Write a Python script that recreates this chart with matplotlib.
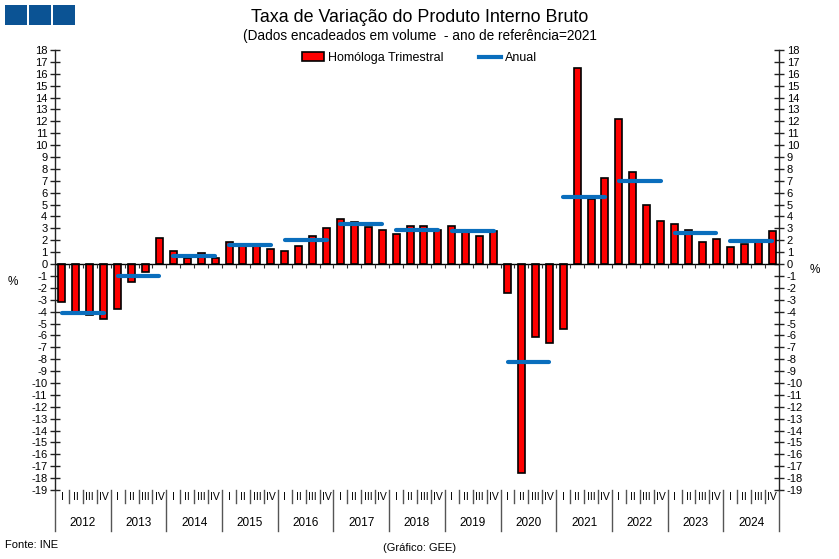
#!/usr/bin/env python3
import matplotlib

matplotlib.use("Agg")
import matplotlib.pyplot as plt
from matplotlib.lines import Line2D
from matplotlib.patches import Patch, Rectangle
from matplotlib.transforms import blended_transform_factory
import numpy as np

plt.rcParams["font.family"] = ["Liberation Sans", "DejaVu Sans"]
plt.rcParams["axes.unicode_minus"] = False

# Data (% change)
years = ["2012", "2013", "2014", "2015", "2016", "2017", "2018",
         "2019", "2020", "2021", "2022", "2023", "2024"]
quarter_labels = ["I", "II", "III", "IV"]
homologa = [
    -3.2, -4.0, -4.3, -4.6,   # 2012
    -3.8, -1.5, -0.7, 2.2,    # 2013
    1.1, 0.55, 0.9, 0.55,     # 2014
    1.85, 1.6, 1.6, 1.3,      # 2015
    1.1, 1.5, 2.4, 3.0,       # 2016
    3.75, 3.5, 3.1, 2.9,      # 2017
    2.5, 3.2, 3.2, 2.9,       # 2018
    3.2, 2.7, 2.4, 2.8,       # 2019
    -2.4, -17.6, -6.1, -6.6,  # 2020
    -5.5, 16.5, 5.5, 7.2,     # 2021
    12.2, 7.7, 5.0, 3.6,      # 2022
    3.35, 2.9, 1.85, 2.1,     # 2023
    1.4, 1.65, 1.9, 2.75,     # 2024
]
anual = [-4.1, -1.0, 0.7, 1.6, 2.0, 3.35, 2.9, 2.75, -8.2, 5.6, 7.0, 2.6, 1.9]

RED = "#FF0000"
BLUE = "#0A6EBD"
LOGO = "#0B5394"

fig = plt.figure(figsize=(8.39, 5.59), dpi=100)
ax = fig.add_axes([55 / 839, 1 - 490 / 559, 724 / 839, 440 / 559])

n = len(homologa)
x = np.arange(n)
ax.bar(x, homologa, width=0.5, color=RED, edgecolor="black", linewidth=1.2, zorder=2)

# zero line with small ticks at quarter boundaries
ax.axhline(0, color="black", linewidth=1.0, zorder=3)
ax.vlines(np.arange(n + 1) - 0.5, -0.3, 0, color="#333333", linewidth=0.8, zorder=3)

# annual averages as horizontal segments over each year's quarters
for i, v in enumerate(anual):
    ax.plot([4 * i, 4 * i + 3], [v, v], color=BLUE, linewidth=3.0,
            solid_capstyle="round", zorder=4)

ax.set_xlim(-0.5, n - 0.5)
ax.set_ylim(-19, 18)
ax.set_yticks(np.arange(-19, 19))
ax.set_xticks([])
for side in ("top", "bottom"):
    ax.spines[side].set_visible(False)
for side in ("left", "right"):
    ax.spines[side].set_color("#222222")
    ax.spines[side].set_linewidth(1.0)
ax.tick_params(axis="y", which="both", direction="inout", length=7, width=1.0,
               labelsize=8, left=True, right=True, labelleft=True,
               labelright=True, pad=2, color="#222222")

# category axis below the plot: quarter labels and year labels
tr = blended_transform_factory(ax.transData, ax.transAxes)
q_len = 13 / 440
y_len = 41 / 440
for b in range(n + 1):
    xb = b - 0.5
    length = y_len if b % 4 == 0 else q_len
    ax.add_line(Line2D([xb, xb], [0, -length], transform=tr, color="#555555",
                       linewidth=1.0, clip_on=False))
for i in range(n):
    ax.text(i, -q_len / 2, quarter_labels[i % 4], transform=tr, ha="center",
            va="center", fontsize=7.5)
for i, yr in enumerate(years):
    ax.text(4 * i + 1.5, -33 / 440, yr, transform=tr, ha="center",
            va="center", fontsize=8.5)

# titles
fig.text(0.5, 1 - 18 / 559, "Taxa de Variação do Produto Interno Bruto",
         ha="center", va="center", fontsize=12.9)
fig.text(0.5, 1 - 36 / 559,
         "(Dados encadeados em volume  - ano de referência=2021",
         ha="center", va="center", fontsize=9.8)

handles = [Patch(facecolor=RED, edgecolor="black", linewidth=1.2),
           Line2D([0], [0], color=BLUE, linewidth=3)]
fig.legend(handles, ["Homóloga Trimestral", "Anual"], loc="center",
           bbox_to_anchor=(0.5, 1 - 58 / 559), ncol=2, frameon=False,
           fontsize=9, columnspacing=2.8, handlelength=1.8, handletextpad=0.3)

# unit labels
fig.text(13 / 839, 1 - 282 / 559, "%", ha="center", va="center", fontsize=8.5)
fig.text(815 / 839, 1 - 270 / 559, "%", ha="center", va="center", fontsize=8.5)

# footers
fig.text(5 / 839, 1 - 545 / 559, "Fonte: INE", ha="left", va="center", fontsize=8)
fig.text(0.5, 1 - 548 / 559, "(Gráfico: GEE)", ha="center", va="center", fontsize=8)

# logo: three blue squares
for x0 in (5, 29, 53):
    fig.patches.append(Rectangle((x0 / 839, 1 - 25 / 559), 22 / 839, 20 / 559,
                                 transform=fig.transFigure, facecolor=LOGO,
                                 edgecolor="none"))

fig.savefig("out.png", dpi=100)
